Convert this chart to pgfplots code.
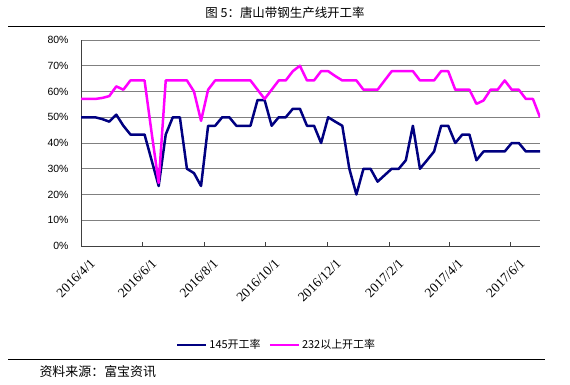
\documentclass[border=0pt]{standalone}
\usepackage{fontspec}
\usepackage{pgfplots}
\pgfplotsset{compat=1.18}
\setmainfont{Liberation Sans}
\newfontfamily\cjk{Noto Sans CJK SC}
\newfontfamily\serifnum{Liberation Serif}
\definecolor{navyline}{RGB}{0,0,128}
\definecolor{magline}{RGB}{255,0,255}
\definecolor{gridc}{RGB}{128,128,128}
\begin{document}
\begin{tikzpicture}
\useasboundingbox (0,0) rectangle (570bp,385bp);
\begin{axis}[
  at={(81bp,139bp)}, anchor=south west,
  scale only axis, width=459bp, height=206bp,
  xmin=0, xmax=455, ymin=0, ymax=80,
  axis x line*=bottom, axis y line*=left,
  axis line style={draw=black!75, line width=0.8bp},
  ytick={0,10,...,80},
  yticklabel={\pgfmathprintnumber{\tick}\%},
  yticklabel style={font=\fontsize{10.5}{12}\selectfont, xshift=-9bp},
  /pgf/number format/assume math mode=true,
  ymajorgrids, grid style={draw=gridc, line width=0.9bp},
  ytick style={draw=none},
  xtick={0,61,122,183,244,306,365,426},
  xticklabels={2016/4/1,2016/6/1,2016/8/1,2016/10/1,2016/12/1,2017/2/1,2017/4/1,2017/6/1},
  xticklabel style={font=\serifnum\fontsize{13.5}{15}\selectfont, rotate=45, anchor=east, yshift=-19bp, xshift=1bp},
  tick align=inside, major tick length=4bp,
  xtick style={draw=black!75, line width=0.8bp},
  legend style={at={(0.426,-0.48)}, anchor=center, draw=none, fill=none,
    font=\cjk\fontsize{11}{13}\selectfont, legend columns=2,
    /tikz/every even column/.append style={column sep=6bp}},
  legend image code/.code={\draw[#1] (0bp,0bp) -- (29bp,0bp);},
  every axis plot/.append style={line width=2.5bp, line join=round, mark=none},
]
\addplot[navyline] coordinates {
(0,50)(7,50)(14,50)(21,49.3)(28,48.3)(35,51)(42,46.7)(49,43.3)(56,43.3)(63,43.3)
(70,33.3)(77,23.3)(84,43.3)(91,50)(98,50)(105,30)(112,28.3)(119,23.3)(126,46.7)(133,46.7)
(140,50)(147,50)(154,46.7)(161,46.7)(168,46.7)(175,56.7)(182,56.7)(189,46.7)(196,50)(203,50)
(210,53.3)(217,53.3)(224,46.7)(231,46.7)(238,40)(245,50)(252,48.3)(259,46.7)(266,30)(273,20)
(280,30)(287,30)(294,25)(301,27.5)(308,30)(315,30)(322,33.3)(329,46.7)(336,30)(343,33.3)
(350,36.7)(357,46.7)(364,46.7)(371,40)(378,43.3)(385,43.3)(392,33.3)(399,36.7)(406,36.7)(413,36.7)
(420,36.7)(427,40)(434,40)(441,36.7)(448,36.7)(455,36.7)
};
\addlegendentry{145开工率}
\addplot[magline] coordinates {
(0,57.1)(7,57.1)(14,57.1)(21,57.5)(28,58.2)(35,62)(42,60.7)(49,64.3)(56,64.3)(63,64.3)
(70,44)(77,24.5)(84,64.3)(91,64.3)(98,64.3)(105,64.3)(112,60)(119,48.6)(126,60.7)(133,64.3)
(140,64.3)(147,64.3)(154,64.3)(161,64.3)(168,64.3)(175,60.7)(182,57.1)(189,60.7)(196,64.3)(203,64.3)
(210,67.9)(217,70)(224,64.3)(231,64.3)(238,67.9)(245,67.9)(252,66)(259,64.3)(266,64.3)(273,64.3)
(280,60.7)(287,60.7)(294,60.7)(301,64.3)(308,67.9)(315,67.9)(322,67.9)(329,67.9)(336,64.3)(343,64.3)
(350,64.3)(357,67.9)(364,67.9)(371,60.7)(378,60.7)(385,60.7)(392,55.2)(399,56.5)(406,60.7)(413,60.7)
(420,64.3)(427,60.7)(434,60.7)(441,57.1)(448,57.1)(455,50)
};
\addlegendentry{232以上开工率}
\end{axis}
\node[font=\cjk\fontsize{12.5}{14}\selectfont] at (285bp,372bp) {图 5：唐山带钢生产线开工率};
\draw[line width=1bp] (8bp,358bp) -- (545bp,358bp);
\draw[line width=1bp] (8bp,25bp) -- (545bp,25bp);
\node[font=\cjk\fontsize{13}{15}\selectfont, anchor=west] at (36bp,13bp) {资料来源：富宝资讯};
\end{tikzpicture}
\end{document}
